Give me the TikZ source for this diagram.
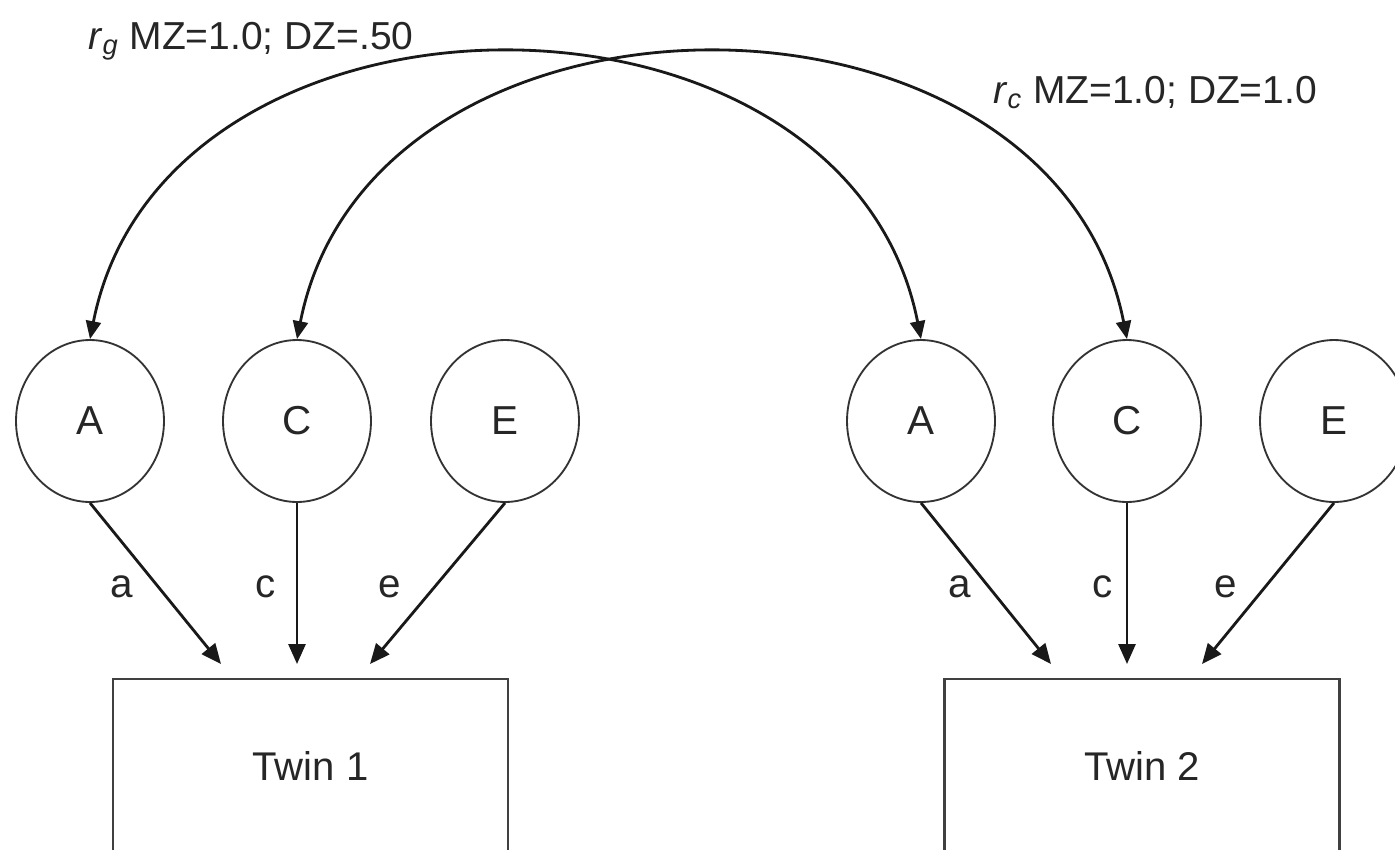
\documentclass[tikz,border=0pt]{standalone}
\usepackage{fontspec}
\setmainfont{Liberation Sans}
\usetikzlibrary{shapes.geometric,arrows.meta}
\tikzset{
  latent/.style={ellipse, draw=black!80, line width=1.05pt, inner sep=0pt,
    minimum width=2.96cm, minimum height=3.24cm, text=black!85,
    font=\fontsize{23}{28}\selectfont},
  obsbox/.style={rectangle, draw=black!75, line width=1.3pt, inner sep=0pt,
    minimum width=7.9cm, minimum height=4.04cm, text height=0.6cm, text depth=0.6cm,
    anchor=north, text=black!85, font=\fontsize{22.8}{28}\selectfont},
  path/.style={draw=black!90, line width=1.6pt, -{Triangle[length=0.4cm,width=0.34cm]}},
  cov/.style={draw=black!90, line width=1.6pt,
    {Triangle[length=0.36cm,width=0.3cm]}-{Triangle[length=0.36cm,width=0.3cm]}},
  plab/.style={text=black!85, font=\fontsize{23}{28}\selectfont, inner sep=0pt},
  toplab/.style={text=black!85, font=\fontsize{22.2}{27}\selectfont, inner sep=0pt, anchor=base west}
}
\begin{document}
\begin{tikzpicture}[x=0.02cm,y=-0.02cm]
\clip (0,0) rectangle (1395,849);
\fill[white] (0,0) rectangle (1395,849);

% latent factors
\node[latent] (A1) at (90,421) {A};
\node[latent] (C1) at (297,421) {C};
\node[latent] (E1) at (505,421) {E};
\node[latent] (A2) at (921,421) {A};
\node[latent] (C2) at (1127,421) {C};
\node[latent] (E2) at (1334,421) {E};

% observed boxes
\node[obsbox] (T1) at (310.5,678) {Twin 1};
\node[obsbox] (T2) at (1142,678) {Twin 2};

% arrow end points
\coordinate (a1t) at (221,664);
\coordinate (c1t) at (297,664);
\coordinate (e1t) at (370,664);
\coordinate (a2t) at (1051,664);
\coordinate (c2t) at (1127,664);
\coordinate (e2t) at (1202,664);

\draw[path] (A1.south) -- (a1t);
\draw[path] (C1.south) -- (c1t);
\draw[path] (E1.south) -- (e1t);
\draw[path] (A2.south) -- (a2t);
\draw[path] (C2.south) -- (c2t);
\draw[path] (E2.south) -- (e2t);

% path labels
\node[plab] (la1) at (122,587) {a};
\node[plab] (lc1) at (266,587) {c};
\node[plab] (le1) at (390,587) {e};
\node[plab] (la2) at (960,587) {a};
\node[plab] (lc2) at (1103,587) {c};
\node[plab] (le2) at (1226,587) {e};

% correlations
\draw[cov] (A1.north) .. controls +(75,-380) and +(-75,-380) .. (A2.north);
\draw[cov] (C1.north) .. controls +(75,-380) and +(-75,-380) .. (C2.north);

\node[toplab] (rg) at (88,49) {\textit{r}\textsubscript{\textit{g}} MZ=1.0; DZ=.50};
\node[toplab] (rc) at (993,103) {\textit{r}\textsubscript{\textit{c}} MZ=1.0; DZ=1.0};
\end{tikzpicture}
\end{document}
